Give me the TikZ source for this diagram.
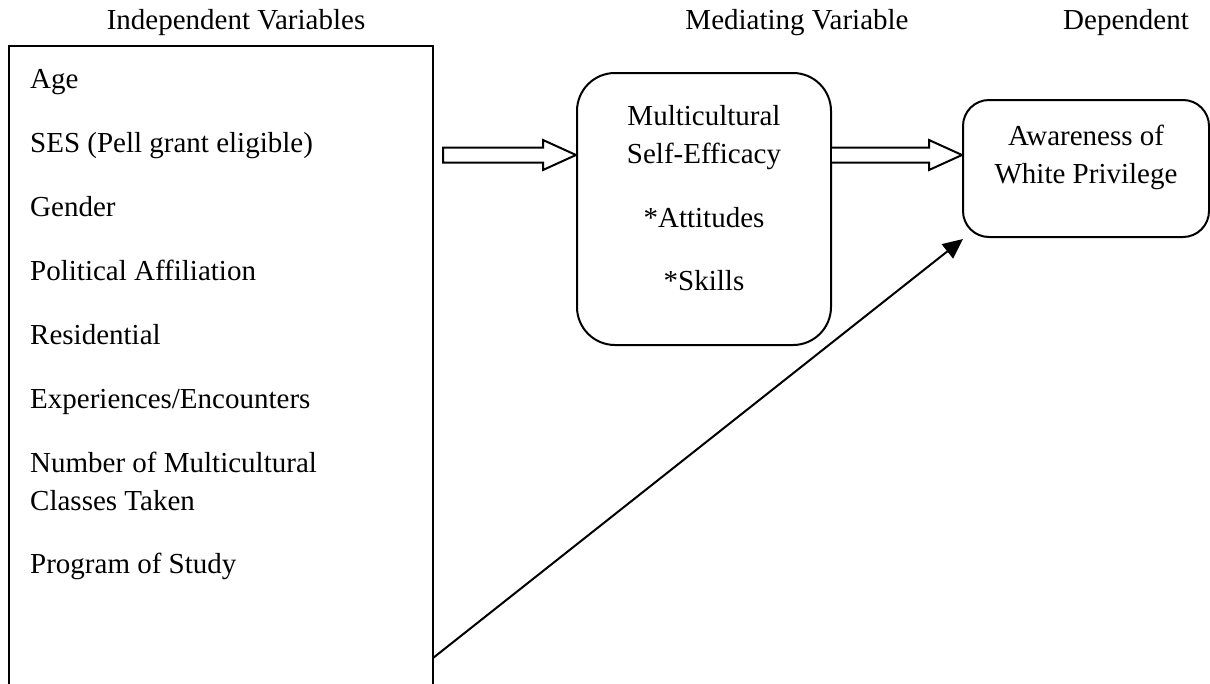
\documentclass[tikz,border=0pt]{standalone}
\usepackage{fontspec}
\setmainfont{Liberation Serif}
\usetikzlibrary{arrows.meta,calc}
\begin{document}
\begin{tikzpicture}[x=1pt,y=-1pt,
  txt/.style={inner sep=0pt,font=\fontsize{29}{38}\selectfont},
  item/.style={txt,anchor=base west},
  ctr/.style={txt,anchor=base},
  rbox/.style={draw,line width=2pt,inner sep=0pt},
  blockarrow/.style={draw,line width=2pt,fill=white,line join=miter},
  lineconn/.style={line width=2pt,-{Triangle[length=20pt,width=18pt]}}
]
\useasboundingbox (0,0) rectangle (1210,683);
% headers
\node[ctr] (hIV) at (236,29) {Independent Variables};
\node[ctr] (hMV) at (797,29) {Mediating Variable};
\node[item] (hDV) at (1063,29) {Dependent};
% left box (open at bottom)
\coordinate (lbBL) at (9,690);
\coordinate (lbTL) at (9,46);
\coordinate (lbTR) at (433,46);
\coordinate (lbBR) at (433,690);
\coordinate (lbOut) at (433,658);
\draw[line width=2pt] (lbBL) -- (lbTL) -- (lbTR) -- (lbBR);
% left items
\node[item] (i1) at (30,88) {Age};
\node[item] (i2) at (30,152) {SES (Pell grant eligible)};
\node[item] (i3) at (30,216) {Gender};
\node[item] (i4) at (30,280) {Political Affiliation};
\node[item] (i5) at (30,344) {Residential};
\node[item] (i6) at (30,408) {Experiences/Encounters};
\node[item] (i7) at (30,472) {Number of Multicultural};
\node[item] (i7b) at (30,510) {Classes Taken};
\node[item] (i8) at (30,573) {Program of Study};
% middle box
\node[rbox,rounded corners=38pt,minimum width=254pt,minimum height=272pt] (mid) at (704,209) {};
\node[ctr] (m1) at (704,125) {Multicultural};
\node[ctr] (m2) at (704,163) {Self-Efficacy};
\node[ctr] (m3) at (704,227) {*Attitudes};
\node[ctr] (m4) at (704,290) {*Skills};
% right box
\node[rbox,rounded corners=26pt,minimum width=246pt,minimum height=137pt] (dv) at (1086,168.5) {};
\node[ctr] (d1) at (1086,145) {Awareness of};
\node[ctr] (d2) at (1086,183) {White Privilege};
% block arrow 1
\coordinate (t1) at (mid.west |- 0,155);
\draw[blockarrow] ($(t1)+(-133,-7.5)$) -- ($(t1)+(-33,-7.5)$) -- ($(t1)+(-33,-15)$) -- (t1)
  -- ($(t1)+(-33,15)$) -- ($(t1)+(-33,7.5)$) -- ($(t1)+(-133,7.5)$) -- cycle;
% block arrow 2
\coordinate (t2) at (dv.west |- 0,155);
\coordinate (s2) at (mid.east |- 0,155);
\draw[blockarrow] ($(s2)+(0,-7.5)$) -- ($(t2)+(-33,-7.5)$) -- ($(t2)+(-33,-15)$) -- (t2)
  -- ($(t2)+(-33,15)$) -- ($(t2)+(-33,7.5)$) -- ($(s2)+(0,7.5)$);
% line arrow
\coordinate (dvIn) at (963,239);
\draw[lineconn] (lbOut) -- (dvIn);
\end{tikzpicture}
\end{document}
